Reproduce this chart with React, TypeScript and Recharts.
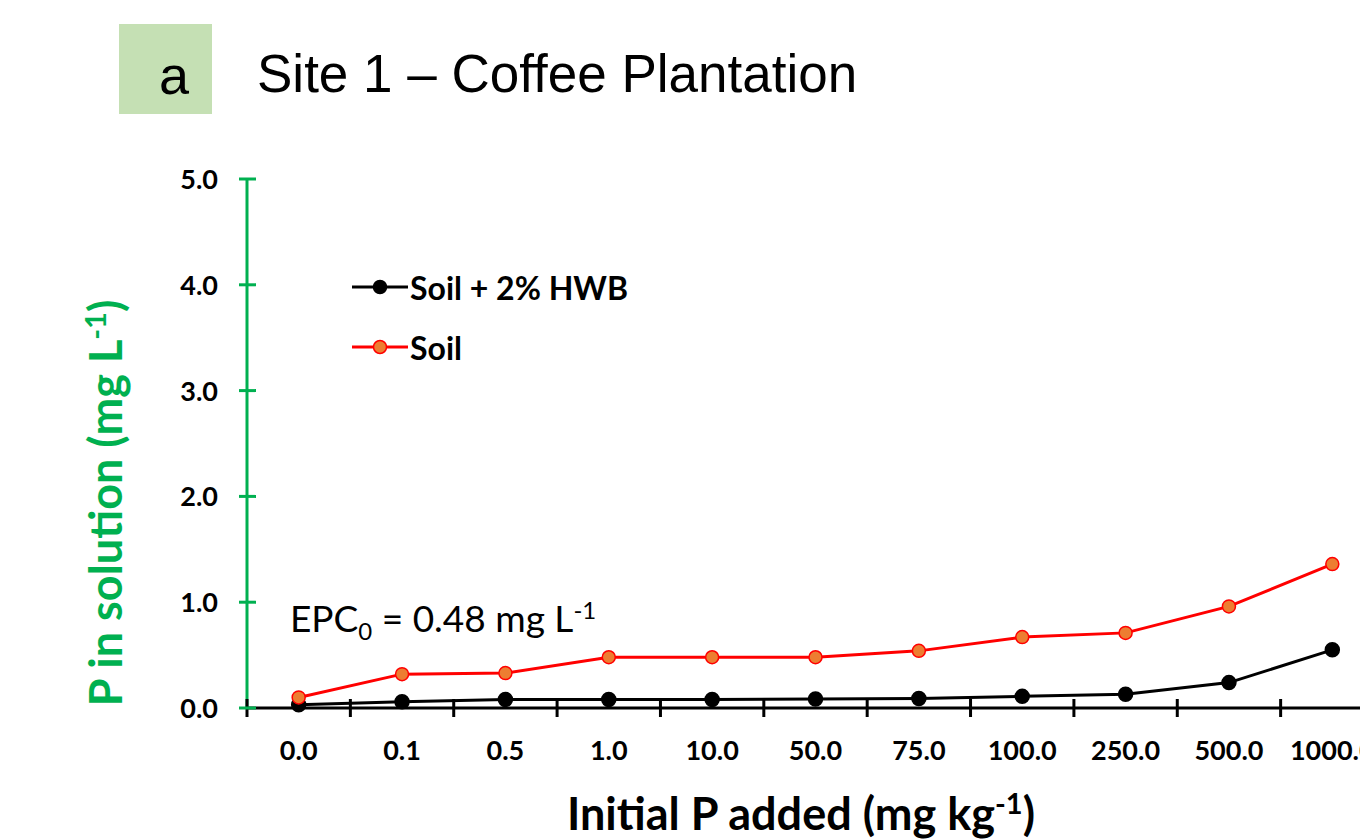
import { LineChart, Line, XAxis, YAxis } from "recharts";

// Initial P added (mg kg-1), one category per sorption step
const categories = ["0.0", "0.1", "0.5", "1.0", "10.0", "50.0", "75.0", "100.0", "250.0", "500.0", "1000.0"];
// P in solution (mg L-1)
const soilHwb = [0.03, 0.06, 0.08, 0.08, 0.08, 0.085, 0.09, 0.11, 0.13, 0.24, 0.55];
const soil = [0.1, 0.32, 0.33, 0.48, 0.48, 0.48, 0.54, 0.67, 0.71, 0.96, 1.36];
const yTicks = [0, 1, 2, 3, 4, 5];

const data = categories.map((added, i) => ({ added, soilHwb: soilHwb[i], soil: soil[i] }));

const GREEN = "#00b050";
const RED = "#ff0000";
const ORANGE = "#ed7d31";
const FONT = "Lato, 'Noto Sans', sans-serif";
const ARIAL = "'Liberation Sans', Arial, sans-serif";

const CHART_W = 1384;
const CHART_H = 839;
const PLOT_LEFT = 247;
const PLOT_TOP = 179;
const PLOT_BOTTOM = 708;
const BAND = (CHART_W - PLOT_LEFT) / categories.length;

const series = [
  { key: "soilHwb", name: "Soil + 2% HWB", stroke: "#000", fill: "#000", r: 7 },
  { key: "soil", name: "Soil", stroke: RED, fill: ORANGE, r: 6.5 },
];

// category ticks: mark on the band edge, label in the band centre
function XTick(props: any) {
  const { x, y, payload } = props;
  const edge = x - BAND / 2;
  return (
    <g>
      <line x1={edge} x2={edge} y1={y - 9} y2={y + 9} stroke="#000" strokeWidth={3} />
      <text x={x} y={y + 52} textAnchor="middle" fontFamily={FONT} fontWeight={700} fontSize={27} fill="#000">
        {payload.value}
      </text>
    </g>
  );
}

function YTick(props: any) {
  const { x, y, payload } = props;
  return (
    <g>
      <line x1={x - 8} x2={x + 9} y1={y} y2={y} stroke={GREEN} strokeWidth={3} />
      <text x={x - 29} y={y + 10} textAnchor="end" fontFamily={FONT} fontWeight={700} fontSize={27} fill="#000">
        {Number(payload.value).toFixed(1)}
      </text>
    </g>
  );
}

function XTitle() {
  return (
    <text x={801} y={830} textAnchor="middle" fontFamily={FONT} fontWeight={700} fontSize={45} fill="#000">
      Initial P added (mg kg
      <tspan dy={-16} fontSize={29}>-1</tspan>
      <tspan dy={16}>)</tspan>
    </text>
  );
}

function YTitle() {
  return (
    <text
      transform="translate(122, 503) rotate(-90)"
      textAnchor="middle"
      fontFamily={FONT}
      fontWeight={700}
      fontSize={45}
      fill={GREEN}
    >
      P in solution (mg L
      <tspan dy={-16} fontSize={29}>-1</tspan>
      <tspan dy={16}>)</tspan>
    </text>
  );
}

export default function App() {
  return (
    <div
      style={{
        position: "absolute",
        left: 0,
        top: 0,
        width: 1360,
        height: 839,
        overflow: "hidden",
        background: "#fff",
      }}
    >
      <div style={{ position: "absolute", left: 119, top: 24, width: 93, height: 90, background: "#c5e0b4" }} />
      <div
        style={{
          position: "absolute",
          left: 119,
          top: 45,
          width: 110,
          textAlign: "center",
          fontFamily: ARIAL,
          fontSize: 54,
          lineHeight: "60px",
          color: "#000",
        }}
      >
        a
      </div>
      <div
        style={{
          position: "absolute",
          left: 257,
          top: 44,
          fontFamily: ARIAL,
          fontSize: 53,
          lineHeight: "60px",
          color: "#000",
          whiteSpace: "nowrap",
        }}
      >
        Site 1 – Coffee Plantation
      </div>

      <LineChart width={CHART_W} height={CHART_H} data={data} margin={{ top: PLOT_TOP, right: 0, bottom: 0, left: 0 }}>
        <XAxis
          dataKey="added"
          type="category"
          scale="band"
          height={CHART_H - PLOT_BOTTOM}
          axisLine={{ stroke: "#000", strokeWidth: 3 }}
          tickLine={false}
          tickSize={0}
          tickMargin={0}
          interval={0}
          tick={<XTick />}
          label={{ content: () => <XTitle /> }}
        />
        <YAxis
          type="number"
          domain={[0, 5]}
          ticks={yTicks}
          width={PLOT_LEFT}
          axisLine={{ stroke: GREEN, strokeWidth: 3 }}
          tickLine={false}
          tickSize={0}
          tickMargin={0}
          tick={<YTick />}
          label={{ content: () => <YTitle /> }}
        />
        {series.map((s) => (
          <Line
            key={s.key}
            dataKey={s.key}
            name={s.name}
            stroke={s.stroke}
            strokeWidth={3}
            dot={{ r: s.r, fill: s.fill, stroke: s.stroke, strokeWidth: 1.5 }}
            isAnimationActive={false}
          />
        ))}
      </LineChart>

      {/* legend */}
      <div style={{ position: "absolute", left: 351, top: 268 }}>
        {series.map((s, i) => (
          <div key={s.key} style={{ display: "flex", alignItems: "center", height: 38, marginTop: i ? 22 : 0 }}>
            <svg width={58} height={20}>
              <line x1={1} x2={57} y1={10} y2={10} stroke={s.stroke} strokeWidth={3} />
              <circle cx={29} cy={10} r={6.5} fill={s.fill} stroke={s.stroke} strokeWidth={1.5} />
            </svg>
            <span style={{ fontFamily: FONT, fontWeight: 700, fontSize: 32, color: "#000", marginLeft: 1 }}>
              {s.name}
            </span>
          </div>
        ))}
      </div>

      <div
        style={{
          position: "absolute",
          left: 290,
          top: 598,
          fontFamily: FONT,
          fontSize: 37,
          lineHeight: "40px",
          color: "#000",
          whiteSpace: "nowrap",
        }}
      >
        EPC<sub style={{ fontSize: 24, lineHeight: 0 }}>0</sub> = 0.48 mg L
        <sup style={{ fontSize: 24, lineHeight: 0 }}>-1</sup>
      </div>
    </div>
  );
}
